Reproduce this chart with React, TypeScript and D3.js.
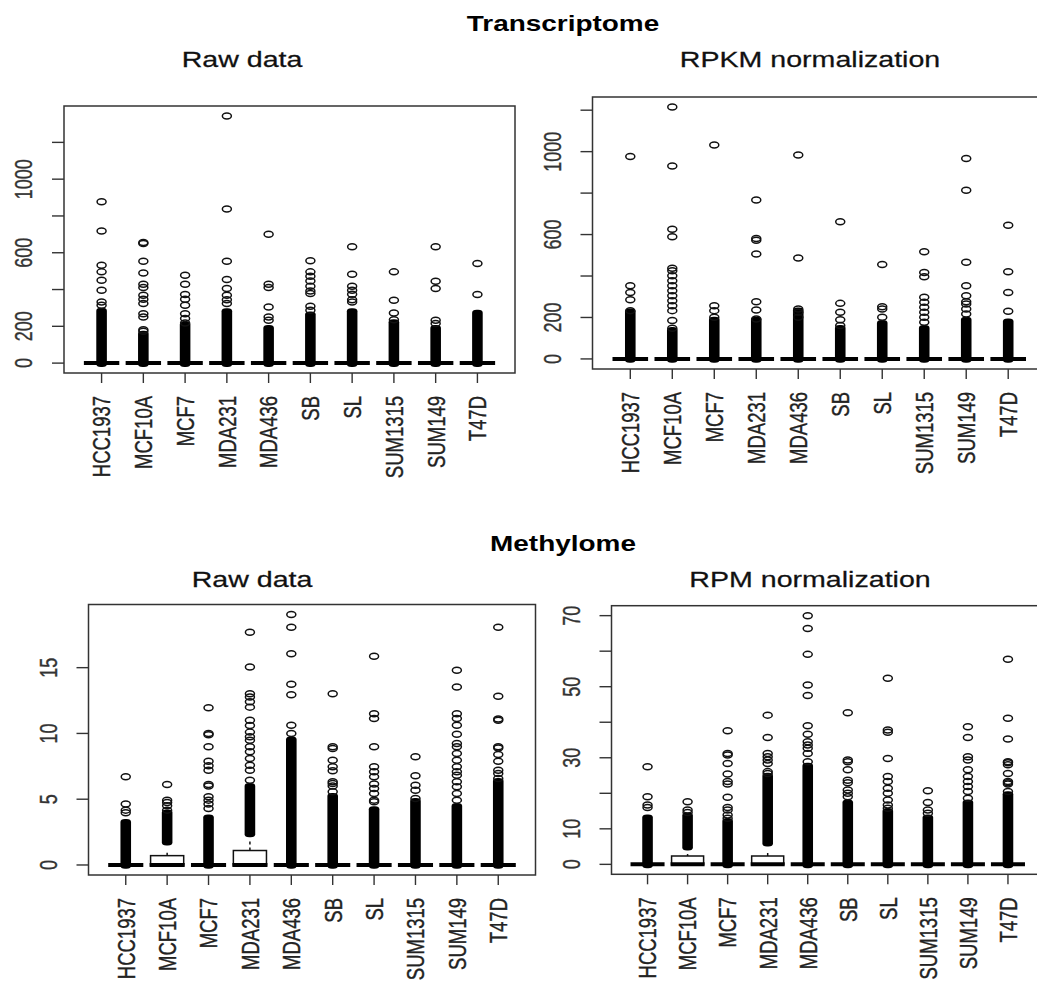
import React, { useEffect, useRef } from 'react'
import * as d3 from 'd3'

const cellLines = ['HCC1937', 'MCF10A', 'MCF7', 'MDA231', 'MDA436', 'SB', 'SL', 'SUM1315', 'SUM149', 'T47D']

// Transcriptome, raw data
const txRawOutliers = [
  [877, 718, 532, 496, 451, 396, 332, 314],
  [656, 650, 554, 490, 429, 411, 369, 347, 324, 269, 251, 182, 173],
  [478, 429, 373, 347, 314, 269, 242, 218],
  [1344, 838, 554, 454, 405, 369, 345, 324],
  [701, 429, 411, 305, 251, 233],
  [556, 496, 472, 447, 418, 392, 378, 309, 287],
  [632, 483, 418, 396, 374, 345, 332],
  [496, 342, 272, 236],
  [632, 445, 405, 233, 215],
  [542, 373],
]
const txRawDenseTop = [280, 155, 205, 278, 187, 260, 278, 218, 187, 269]
const txRawQ3 = [0, 0, 0, 0, 0, 0, 0, 0, 0, 0]
const txRawWhisker = [0, 0, 0, 0, 0, 0, 0, 0, 0, 0]
const txRawDenseLow = [0, 0, 0, 0, 0, 0, 0, 0, 0, 0]

// Transcriptome, RPKM normalization
const txRpkmOutliers = [
  [976, 353, 321, 286, 233],
  [1215, 931, 626, 589, 437, 425, 401, 377, 353, 329, 305, 281, 257, 233, 185, 148],
  [1032, 257, 233, 201],
  [767, 581, 573, 506, 276, 236, 193],
  [984, 487, 241, 225, 201],
  [662, 268, 225, 189, 161],
  [455, 252, 241, 201],
  [517, 417, 397, 297, 273, 249, 225, 201, 177],
  [967, 814, 466, 353, 305, 276, 265, 241, 217],
  [645, 421, 320, 230],
]
const txRpkmDenseTop = [225, 136, 185, 185, 230, 145, 169, 145, 185, 177]
const txRpkmQ3 = [0, 0, 0, 0, 0, 0, 0, 0, 0, 0]
const txRpkmWhisker = [0, 0, 0, 0, 0, 0, 0, 0, 0, 0]
const txRpkmDenseLow = [0, 0, 0, 0, 0, 0, 0, 0, 0, 0]

const txTicks = [0, 200, 400, 600, 800, 1000, 1200]
const txTickLabels = [0, 200, 600, 1000]

// Methylome, raw data
const meRawOutliers = [
  [6.7, 4.63, 4.17, 3.97],
  [6.12, 4.93, 4.75, 4.5, 4.17],
  [11.96, 10.0, 9.9, 8.98, 7.89, 7.54, 7.2, 6.12, 6.0, 5.18, 4.93, 4.63, 4.3],
  [17.7, 15.05, 13.02, 12.77, 12.4, 12.0, 11.0, 10.6, 10.1, 9.74, 9.48, 8.98, 8.6, 8.09, 7.59, 7.2, 6.45],
  [19.04, 18.08, 16.06, 13.73, 12.95, 10.62, 9.99],
  [13.02, 8.98, 8.85, 7.97, 7.46, 7.16, 6.32, 6.2, 6.0, 5.56],
  [15.86, 11.5, 11.13, 8.98, 7.46, 7.08, 6.7, 6.15, 5.82, 5.44, 4.93, 4.8],
  [8.22, 6.78, 6.07, 5.69, 5.06],
  [14.8, 13.53, 11.5, 11.13, 10.62, 9.94, 9.23, 8.98, 8.47, 7.97, 7.46, 7.08, 6.83, 6.32, 5.94, 5.44, 4.93],
  [18.08, 12.82, 11.1, 11.0, 8.98, 8.9, 8.4, 7.89, 7.2, 6.95, 6.58],
]
const meRawDenseTop = [3.2, 3.92, 3.54, 5.94, 9.48, 5.18, 4.17, 4.8, 4.43, 6.32]
const meRawDenseLow = [0, 1.77, 0, 2.4, 0, 0, 0, 0, 0, 0]
const meRawQ3 = [0, 0.71, 0, 1.1, 0, 0, 0, 0, 0, 0]
const meRawWhisker = [0, 1.09, 0, 1.9, 0, 0, 0, 0, 0, 0]
const meRawTicks = [0, 5, 10, 15]
const meRawTickLabels = [0, 5, 10, 15]

// Methylome, RPM normalization
const meRpmOutliers = [
  [27.5, 19.05, 16.7, 16.0],
  [17.6, 15.3, 14.6],
  [37.6, 31.2, 30.8, 28.4, 25.4, 23.3, 22.6, 18.9, 16.0, 15.3, 13.9, 12.95],
  [42.0, 35.7, 31.2, 30.3, 29.4, 28.4, 26.1, 25.6],
  [70.0, 66.4, 59.1, 50.5, 47.5, 39.0, 36.6, 34.5, 33.6, 32.7, 31.2, 28.9],
  [42.7, 29.4, 28.9, 26.6, 23.7, 23.0, 20.9, 20.0, 19.05],
  [52.4, 37.8, 37.2, 29.8, 24.7, 23.3, 21.4, 20.0, 18.1, 16.7, 15.8],
  [20.7, 17.4, 15.3, 14.4],
  [38.75, 35.7, 30.3, 29.4, 26.6, 24.7, 23.3, 21.9, 20.5, 18.6],
  [57.7, 41.1, 35.3, 28.9, 28.6, 28.0, 25.6, 23.3, 23.0, 22.6, 20.5],
]
const meRpmDenseTop = [12.95, 13.5, 12.0, 24.7, 27.5, 17.2, 14.8, 12.95, 17.2, 19.5]
const meRpmDenseLow = [0, 4.97, 0, 6.1, 0, 0, 0, 0, 0, 0]
const meRpmQ3 = [0, 2.35, 0, 2.35, 0, 0, 0, 0, 0, 0]
const meRpmWhisker = [0, 2.9, 0, 3.6, 0, 0, 0, 0, 0, 0]
const meRpmTicks = [0, 10, 20, 30, 40, 50, 60, 70]
const meRpmTickLabels = [0, 10, 30, 50, 70]

const FONT = '"Liberation Sans", Arial, Helvetica, sans-serif'
const SX = 1.3 // the picture is stretched sideways

const panels = [
  { title: 'Raw data', titleX: 242, titleY: 67, left: 64, right: 515, top: 106, bottom: 373,
    outliers: txRawOutliers, denseTop: txRawDenseTop, denseLow: txRawDenseLow, q3: txRawQ3, whisker: txRawWhisker,
    ticks: txTicks, tickLabels: txTickLabels },
  { title: 'RPKM normalization', titleX: 810, titleY: 67, left: 592.5, right: 1046, top: 97, bottom: 369,
    outliers: txRpkmOutliers, denseTop: txRpkmDenseTop, denseLow: txRpkmDenseLow, q3: txRpkmQ3, whisker: txRpkmWhisker,
    ticks: txTicks, tickLabels: txTickLabels },
  { title: 'Raw data', titleX: 252, titleY: 587, left: 88.5, right: 535.5, top: 604.5, bottom: 875,
    outliers: meRawOutliers, denseTop: meRawDenseTop, denseLow: meRawDenseLow, q3: meRawQ3, whisker: meRawWhisker,
    ticks: meRawTicks, tickLabels: meRawTickLabels },
  { title: 'RPM normalization', titleX: 810, titleY: 587, left: 611.5, right: 1044, top: 605.7, bottom: 874.3,
    outliers: meRpmOutliers, denseTop: meRpmDenseTop, denseLow: meRpmDenseLow, q3: meRpmQ3, whisker: meRpmWhisker,
    ticks: meRpmTicks, tickLabels: meRpmTickLabels },
]

const headings = [
  { text: 'Transcriptome', x: 563, y: 31 },
  { text: 'Methylome', x: 563, y: 551 },
]

function drawPanel(svg, p) {
  let x = d3.scaleLinear().domain([0.1, 10.9]).range([p.left, p.right])
  let yMax = d3.max(p.outliers.flat())
  let y = d3.scaleLinear().domain([-0.04 * yMax, 1.04 * yMax]).range([p.bottom, p.top])
  let bw = x(0.8) - x(0)
  let rx = 4.5, ry = 3
  let g = svg.append('g')

  //title
  g.append('text')
    .attr('transform', `translate(${p.titleX},${p.titleY}) scale(${SX},1)`)
    .attr('text-anchor', 'middle')
    .attr('font-family', FONT)
    .attr('font-size', 22)
    .attr('fill', '#111')
    .attr('stroke', '#111').attr('stroke-width', 0.25)
    .text(p.title)

  //boxes
  cellLines.forEach((name, i) => {
    let cx = x(i + 1)
    let bg = g.append('g')
    if (p.q3[i] > 0) {
      bg.append('rect')
        .attr('x', cx - bw / 2).attr('y', y(p.q3[i]))
        .attr('width', bw).attr('height', y(0) - y(p.q3[i]))
        .attr('fill', '#fff').attr('stroke', '#111').attr('stroke-width', 1.5)
      bg.append('line')
        .attr('x1', cx).attr('x2', cx)
        .attr('y1', y(p.q3[i])).attr('y2', y(p.whisker[i]))
        .attr('stroke', '#111').attr('stroke-width', 1.5)
        .attr('stroke-dasharray', '3,3')
    }
    //dense run of outliers
    bg.append('rect')
      .attr('x', cx - rx - 0.8).attr('width', 2 * rx + 1.6)
      .attr('y', y(p.denseTop[i]) - ry - 0.8)
      .attr('height', y(p.denseLow[i]) - y(p.denseTop[i]) + 2 * ry + 1.6)
      .attr('rx', rx).attr('ry', ry)
      .attr('fill', '#000')
    //median
    bg.append('line')
      .attr('x1', cx - bw / 2 - 1).attr('x2', cx + bw / 2 + 1)
      .attr('y1', y(0)).attr('y2', y(0))
      .attr('stroke', '#000').attr('stroke-width', 4)
    bg.selectAll('ellipse').data(p.outliers[i]).join('ellipse')
      .attr('cx', cx).attr('cy', (d) => y(d))
      .attr('rx', rx).attr('ry', ry)
      .attr('fill', 'none').attr('stroke', '#111').attr('stroke-width', 1.5)
  })

  //frame
  g.append('rect')
    .attr('x', p.left).attr('y', p.top)
    .attr('width', p.right - p.left).attr('height', p.bottom - p.top)
    .attr('fill', 'none').attr('stroke', '#333').attr('stroke-width', 1.5)

  //y axis
  g.selectAll('line.ytick').data(p.ticks).join('line')
    .attr('class', 'ytick')
    .attr('x1', p.left).attr('x2', p.left - 12)
    .attr('y1', (d) => y(d)).attr('y2', (d) => y(d))
    .attr('stroke', '#333').attr('stroke-width', 1.4)
  g.selectAll('text.ylab').data(p.tickLabels).join('text')
    .attr('class', 'ylab')
    .attr('transform', (d) => `translate(${p.left - 40},${y(d)}) scale(${SX},1) rotate(-90)`)
    .attr('text-anchor', 'middle')
    .attr('dominant-baseline', 'central')
    .attr('font-family', FONT)
    .attr('font-size', 18)
    .attr('fill', '#333')
    .attr('stroke', '#333').attr('stroke-width', 0.3)
    .text((d) => d)

  //x axis
  g.selectAll('line.xtick').data(cellLines).join('line')
    .attr('class', 'xtick')
    .attr('x1', (d, i) => x(i + 1)).attr('x2', (d, i) => x(i + 1))
    .attr('y1', p.bottom).attr('y2', p.bottom + 10)
    .attr('stroke', '#333').attr('stroke-width', 1.4)
  g.selectAll('text.xlab').data(cellLines).join('text')
    .attr('class', 'xlab')
    .attr('transform', (d, i) => `translate(${x(i + 1) + 1},${p.bottom + 23}) scale(${SX},1) rotate(-90)`)
    .attr('text-anchor', 'end')
    .attr('dominant-baseline', 'central')
    .attr('font-family', FONT)
    .attr('font-size', 18.5)
    .attr('fill', '#222')
    .attr('stroke', '#222').attr('stroke-width', 0.3)
    .text((d) => d)
}

export default function App() {
  const ref = useRef(null)
  useEffect(() => {
    let svg = d3.select(ref.current)
    svg.selectAll('*').remove()
    panels.forEach((p) => drawPanel(svg, p))
    svg.selectAll('text.heading').data(headings).join('text')
      .attr('class', 'heading')
      .attr('transform', (d) => `translate(${d.x},${d.y}) scale(${SX},1)`)
      .attr('text-anchor', 'middle')
      .attr('font-family', FONT)
      .attr('font-size', 21.5)
      .attr('font-weight', 'bold')
      .attr('fill', '#000')
      .text((d) => d.text)
  }, [])
  return (
    <svg ref={ref} width={1037} height={982}
      style={{ position: 'absolute', left: 0, top: 0, background: '#fff' }} />
  )
}
